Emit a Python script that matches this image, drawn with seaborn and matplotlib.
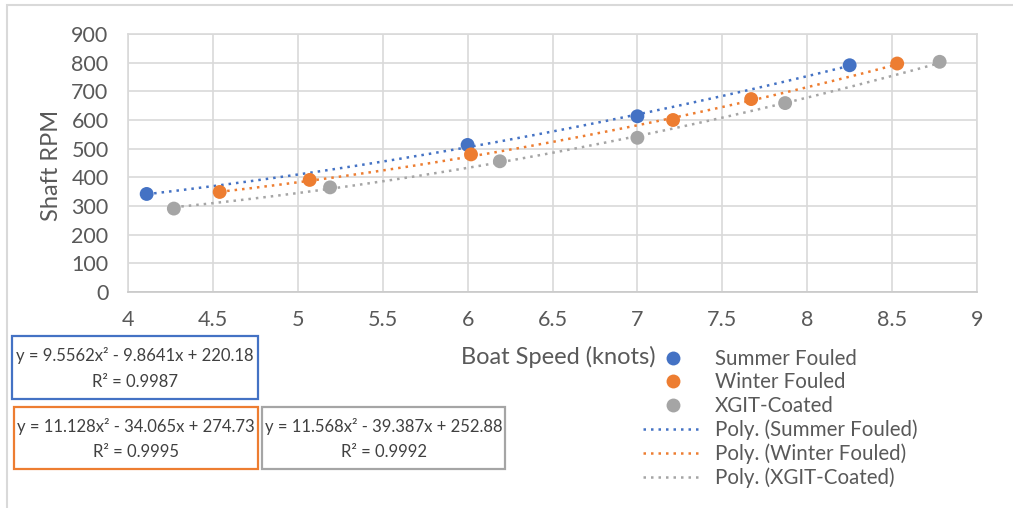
import numpy as np
import pandas as pd
import matplotlib
matplotlib.use("Agg")
import matplotlib.pyplot as plt
from matplotlib.lines import Line2D
from matplotlib.patches import Rectangle
import seaborn as sns

# --- measured data -------------------------------------------------------
series_names = ["Summer Fouled", "Winter Fouled", "XGIT-Coated"]

summer_speed = [4.11, 6.00, 7.00, 8.25]
summer_rpm = [342, 513, 613, 791]

winter_speed = [4.54, 5.07, 6.02, 7.21, 7.67, 8.53]
winter_rpm = [349, 391, 480, 600, 673, 797]

xgit_speed = [4.27, 5.19, 6.19, 7.00, 7.87, 8.78]
xgit_rpm = [291, 365, 456, 538, 659, 803]

# second-order trendline coefficients (a, b, c) for y = a x^2 + b x + c, and R^2
poly_coefs = {
    "Summer Fouled": [9.5562, -9.8641, 220.18],
    "Winter Fouled": [11.128, -34.065, 274.73],
    "XGIT-Coated": [11.568, -39.387, 252.88],
}
r_squared = {
    "Summer Fouled": 0.9987,
    "Winter Fouled": 0.9995,
    "XGIT-Coated": 0.9992,
}

x_ticks = [4, 4.5, 5, 5.5, 6, 6.5, 7, 7.5, 8, 8.5, 9]
y_ticks = [0, 100, 200, 300, 400, 500, 600, 700, 800, 900]

colors = {"Summer Fouled": "#4472C4", "Winter Fouled": "#ED7D31", "XGIT-Coated": "#A5A5A5"}

# --- tidy tables ---------------------------------------------------------
speeds = [summer_speed, winter_speed, xgit_speed]
rpms = [summer_rpm, winter_rpm, xgit_rpm]
points = pd.concat(
    [pd.DataFrame({"speed": s, "rpm": r, "series": n}) for s, r, n in zip(speeds, rpms, series_names)],
    ignore_index=True,
)

trend_frames = []
for s, n in zip(speeds, series_names):
    xs = np.linspace(min(s), max(s), 200)
    trend_frames.append(pd.DataFrame({"speed": xs, "rpm": np.polyval(poly_coefs[n], xs), "series": n}))
trend = pd.concat(trend_frames, ignore_index=True)

# --- figure --------------------------------------------------------------
sns.set_theme(style="white")
plt.rcParams["font.family"] = ["Lato", "DejaVu Sans"]

W, H = 1013, 508
fig = plt.figure(figsize=(W / 100, H / 100), dpi=100)
fig.patch.set_facecolor("white")


def fx(px):
    return px / W


def fy(py):
    return 1 - py / H


ax = fig.add_axes([fx(128), fy(292), fx(977) - fx(128), fy(34) - fy(292)])

text_grey = "#595959"
grid_grey = "#D9D9D9"

dotted = (0, (1, 2))
sns.lineplot(data=trend, x="speed", y="rpm", hue="series", palette=colors,
             ax=ax, legend=False, linewidth=1.8, sort=False, estimator=None,
             units="series", zorder=2)
for line in ax.get_lines():
    line.set_linestyle(dotted)

sns.scatterplot(data=points, x="speed", y="rpm", hue="series", palette=colors,
                ax=ax, legend=False, s=100, edgecolor="none", zorder=3)

ax.set_xlim(4, 9)
ax.set_ylim(0, 900)
ax.set_xticks(x_ticks)
ax.set_xticklabels([f"{t:g}" for t in x_ticks])
ax.set_yticks(y_ticks)
ax.set_yticklabels([str(t) for t in y_ticks])
ax.grid(True, color=grid_grey, linewidth=1.2)
ax.set_axisbelow(True)
for sp in ax.spines.values():
    sp.set_color(grid_grey)
    sp.set_linewidth(1.2)
ax.spines["bottom"].set_color("#C8C8C8")
ax.tick_params(axis="both", length=0, labelsize=15.5, labelcolor=text_grey)
ax.tick_params(axis="x", pad=13)
ax.tick_params(axis="y", pad=14)

ax.set_xlabel("Boat Speed (knots)", fontsize=17, color=text_grey, va="center")
ax.xaxis.set_label_coords((558 - 128) / 849, (292 - 357) / 258)
ax.set_ylabel("Shaft RPM", fontsize=17, color=text_grey, va="center")
ax.yaxis.set_label_coords((52 - 128) / 849, 0.49)

# --- legend --------------------------------------------------------------
handles = [Line2D([], [], ls="", marker="o", ms=10, color=colors[n], markeredgewidth=0)
           for n in series_names]
handles += [Line2D([], [], ls=dotted, lw=1.8, color=colors[n]) for n in series_names]
labels = series_names + [f"Poly. ({n})" for n in series_names]
fig.legend(handles, labels, loc="upper left", bbox_to_anchor=(fx(643), fy(349)),
           frameon=False, fontsize=14.8, handlelength=2.9, handletextpad=0.6,
           labelspacing=0.17, borderpad=0, borderaxespad=0, labelcolor=text_grey)

# --- trendline equation boxes -------------------------------------------
boxes = {
    "Summer Fouled": (12, 336, 258, 399),
    "Winter Fouled": (14, 407, 258, 469),
    "XGIT-Coated": (262, 407, 505, 469),
}
for n, (x0, y0, x1, y1) in boxes.items():
    a, b, c = poly_coefs[n]
    sb = "-" if b < 0 else "+"
    sc = "-" if c < 0 else "+"
    eq = f"y = {a:g}x\u00b2 {sb} {abs(b):g}x {sc} {abs(c):g}\nR\u00b2 = {r_squared[n]:g}"
    fig.add_artist(Rectangle((fx(x0), fy(y1)), fx(x1) - fx(x0), fy(y0) - fy(y1),
                             transform=fig.transFigure, fill=False,
                             edgecolor=colors[n], linewidth=1.6))
    fig.text(fx((x0 + x1) / 2), fy((y0 + y1) / 2 + 1), eq, ha="center", va="center",
             fontsize=12.0, color="#404040", linespacing=1.75)

# chart area frame
fig.add_artist(Rectangle((fx(7), -0.1), 1.2, fy(5) + 0.1, transform=fig.transFigure,
                         fill=False, edgecolor=grid_grey, linewidth=1.5))

fig.savefig("out.png", dpi=100)
